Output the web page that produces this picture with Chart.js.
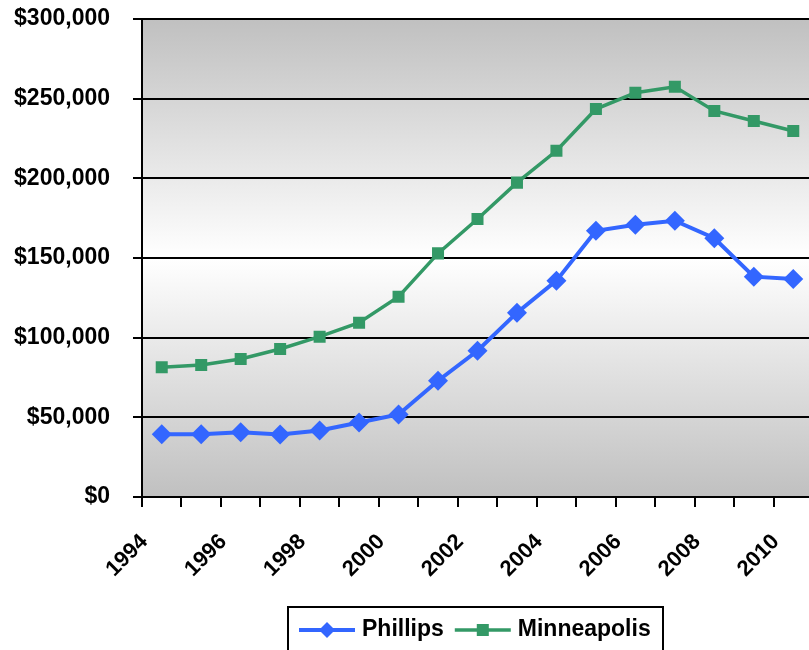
<!DOCTYPE html>
<html><head><meta charset="utf-8">
<script src="https://cdn.jsdelivr.net/npm/chart.js@4.4.1/dist/chart.umd.min.js"></script>
<style>
html,body{margin:0;padding:0;overflow:hidden;background:#fff;width:809px;height:650px}
#wrap{width:813px;height:650px}
</style>
</head><body><div id="wrap"><canvas id="c" width="813" height="650"></canvas></div>
<script>
const years = ['1994','1995','1996','1997','1998','1999','2000','2001','2002','2003','2004','2005','2006','2007','2008','2009','2010'];
const tickYears = ['1994','1996','1998','2000','2002','2004','2006','2008','2010'];
const phillips = [39400,39400,40600,39300,41700,46800,51800,73000,91800,115700,135800,167100,170900,173400,162400,138300,136800];
const minneapolis = [81400,82800,86600,92900,100600,109400,125700,152900,174500,197300,217300,243500,253700,257500,242300,236000,229700];
const yTicks = [0,50000,100000,150000,200000,250000,300000];
const seriesNames = ['Phillips','Minneapolis'];

const FONT = "'Liberation Sans', Arial, sans-serif";
const BLUE = '#3366FF', GREEN = '#339966';

const bgPlugin = {
  id: 'bg',
  beforeDraw(chart){
    const {ctx, chartArea:a} = chart;
    const g = ctx.createLinearGradient(0, a.top, 0, a.bottom);
    g.addColorStop(0, '#c0c0c0');
    g.addColorStop(0.5, '#ffffff');
    g.addColorStop(1, '#c0c0c0');
    ctx.save(); ctx.fillStyle = g;
    ctx.fillRect(a.left, a.top, a.right - a.left, a.bottom - a.top);
    ctx.restore();
  }
};

const legendPlugin = {
  id: 'boxLegend',
  afterDraw(chart){
    const {ctx, chartArea:a} = chart;
    const w = 375, h = 60;
    const cx = (a.left + a.right) / 2 - 2;
    const x0 = cx - w/2, y0 = 607;
    ctx.save();
    ctx.fillStyle = '#fff'; ctx.strokeStyle = '#000'; ctx.lineWidth = 2;
    ctx.fillRect(x0, y0, w, h); ctx.strokeRect(x0, y0, w, h);
    const yc = 630;
    ctx.font = 'bold 23px ' + FONT;
    ctx.textBaseline = 'middle'; ctx.textAlign = 'left';
    let x = x0 + 11;
    chart.data.datasets.forEach((ds) => {
      ctx.strokeStyle = ds.borderColor; ctx.lineWidth = ds.borderWidth;
      ctx.beginPath(); ctx.moveTo(x, yc); ctx.lineTo(x + 56, yc); ctx.stroke();
      ctx.fillStyle = ds.pointBackgroundColor;
      Chart.helpers.drawPoint(ctx, {pointStyle: ds.pointStyle, radius: ds.pointStyle === 'rectRot' ? 8 : 8.5, rotation: 0, borderWidth: 0}, x + 28, yc);
      ctx.fillStyle = '#000';
      ctx.fillText(ds.label, x + 63, yc);
      x += 63 + ctx.measureText(ds.label).width + 11;
    });
    ctx.restore();
  }
};

new Chart(document.getElementById('c'), {
  type: 'line',
  data: {
    labels: years,
    datasets: [
      {label: seriesNames[0], data: phillips, borderColor: BLUE, backgroundColor: BLUE,
       pointBackgroundColor: BLUE, pointBorderColor: BLUE, borderWidth: 4,
       pointStyle: 'rectRot', pointRadius: 10, pointBorderWidth: 0, pointHoverRadius: 10, tension: 0},
      {label: seriesNames[1], data: minneapolis, borderColor: GREEN, backgroundColor: GREEN,
       pointBackgroundColor: GREEN, pointBorderColor: GREEN, borderWidth: 3.5,
       pointStyle: 'rect', pointRadius: 8.5, pointBorderWidth: 0, pointHoverRadius: 8.5, tension: 0}
    ]
  },
  options: {
    responsive: false,
    animation: false,
    layout: {autoPadding: false, padding: {top: 19, left: 0, right: 0, bottom: 0}},
    plugins: {legend: {display: false}, tooltip: {enabled: false}},
    scales: {
      x: {
        offset: true,
        afterFit(s){ s.height = 153; s.paddingLeft = 0; s.paddingRight = 0; },
        border: {display: true, color: '#000', width: 2},
        grid: {display: true, offset: true, drawOnChartArea: false, drawTicks: true, tickLength: 10, color: '#000', lineWidth: 2},
        ticks: {
          autoSkip: false, maxRotation: 45, minRotation: 45, padding: 14, color: '#000',
          font: {family: FONT, size: 22, weight: 'bold', lineHeight: 0},
          callback(v){ const l = this.getLabelForValue(v); return tickYears.includes(l) ? l + '    ' : ''; }
        }
      },
      y: {
        min: 0, max: 300000,
        afterFit(s){ s.width = 142; s.paddingTop = 0; s.paddingBottom = 0; },
        afterBuildTicks(s){ s.ticks = yTicks.map(v => ({value: v})); },
        border: {display: true, color: '#000', width: 2},
        grid: {color: '#000', lineWidth: 2, tickLength: 9, drawTicks: true},
        ticks: {
          padding: 23, color: '#000',
          font: {family: FONT, size: 23, weight: 'bold'},
          callback(v){ return '$' + Number(v).toLocaleString('en-US'); }
        }
      }
    }
  },
  plugins: [bgPlugin, legendPlugin]
});
</script>
</body></html>
